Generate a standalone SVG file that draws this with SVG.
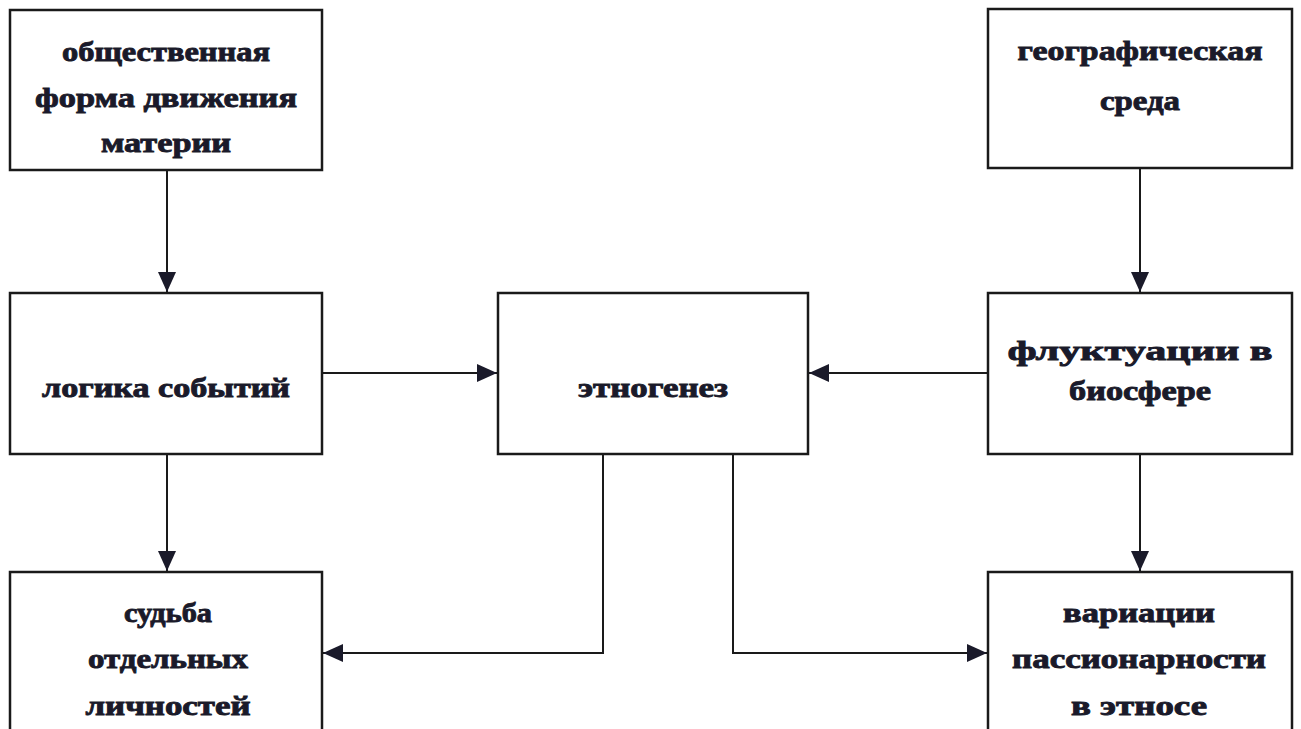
<svg xmlns="http://www.w3.org/2000/svg" width="1301" height="729" viewBox="0 0 1301 729">
<style>
.box{fill:#fff;stroke:#1a1a1a;stroke-width:2.5}
.lbl{font-family:"Liberation Serif","Times New Roman",serif;font-weight:bold;font-size:28px;fill:#1a1a2a;stroke:#1a1a2a;stroke-width:0.9;text-anchor:middle}
.con{fill:none;stroke:#1a1a1a;stroke-width:2;marker-end:url(#ah)}
</style>
<defs>
<marker id="ah" markerUnits="userSpaceOnUse" markerWidth="22" markerHeight="20" refX="20" refY="9" orient="auto">
<path d="M0,0 L20,9 L0,18 z" fill="#1a1a2a"/>
</marker>
</defs>
<rect width="1301" height="729" fill="#fff"/>
<g id="connectors">
<path class="con" d="M167,170 V292"/>
<path class="con" d="M1140,168 V292"/>
<path class="con" d="M167,455 V571"/>
<path class="con" d="M1140,455 V571"/>
<path class="con" d="M322,373 H497"/>
<path class="con" d="M988,373 H809"/>
<path class="con" d="M603,455 V653 H323"/>
<path class="con" d="M733,455 V653 H987"/>
</g>
<g id="n1">
<rect class="box" x="10" y="10" width="312" height="160"/>
<text class="lbl" x="166" y="61" textLength="208" lengthAdjust="spacingAndGlyphs">общественная</text>
<text class="lbl" x="166" y="107" textLength="262" lengthAdjust="spacingAndGlyphs">форма движения</text>
<text class="lbl" x="166" y="152" textLength="130" lengthAdjust="spacingAndGlyphs">материи</text>
</g>
<g id="n2">
<rect class="box" x="988" y="9" width="304" height="159"/>
<text class="lbl" x="1140" y="60" textLength="245" lengthAdjust="spacingAndGlyphs">географическая</text>
<text class="lbl" x="1140" y="110" textLength="80" lengthAdjust="spacingAndGlyphs">среда</text>
</g>
<g id="n3">
<rect class="box" x="10" y="293" width="312" height="161"/>
<text class="lbl" x="166" y="397" textLength="248" lengthAdjust="spacingAndGlyphs">логика событий</text>
</g>
<g id="n4">
<rect class="box" x="498" y="293" width="310" height="161"/>
<text class="lbl" x="653" y="397" textLength="150" lengthAdjust="spacingAndGlyphs">этногенез</text>
</g>
<g id="n5">
<rect class="box" x="988" y="293" width="304" height="161"/>
<text class="lbl" x="1140" y="360" textLength="265" lengthAdjust="spacingAndGlyphs">флуктуации в</text>
<text class="lbl" x="1140" y="400" textLength="142" lengthAdjust="spacingAndGlyphs">биосфере</text>
</g>
<g id="n6">
<rect class="box" x="10" y="572" width="312" height="200"/>
<text class="lbl" x="168" y="622" textLength="88" lengthAdjust="spacingAndGlyphs">судьба</text>
<text class="lbl" x="168" y="668" textLength="160" lengthAdjust="spacingAndGlyphs">отдельных</text>
<text class="lbl" x="168" y="715" textLength="165" lengthAdjust="spacingAndGlyphs">личностей</text>
</g>
<g id="n7">
<rect class="box" x="988" y="572" width="304" height="200"/>
<text class="lbl" x="1139" y="622" textLength="152" lengthAdjust="spacingAndGlyphs">вариации</text>
<text class="lbl" x="1139" y="668" textLength="254" lengthAdjust="spacingAndGlyphs">пассионарности</text>
<text class="lbl" x="1139" y="715" textLength="136" lengthAdjust="spacingAndGlyphs">в этносе</text>
</g>
</svg>
